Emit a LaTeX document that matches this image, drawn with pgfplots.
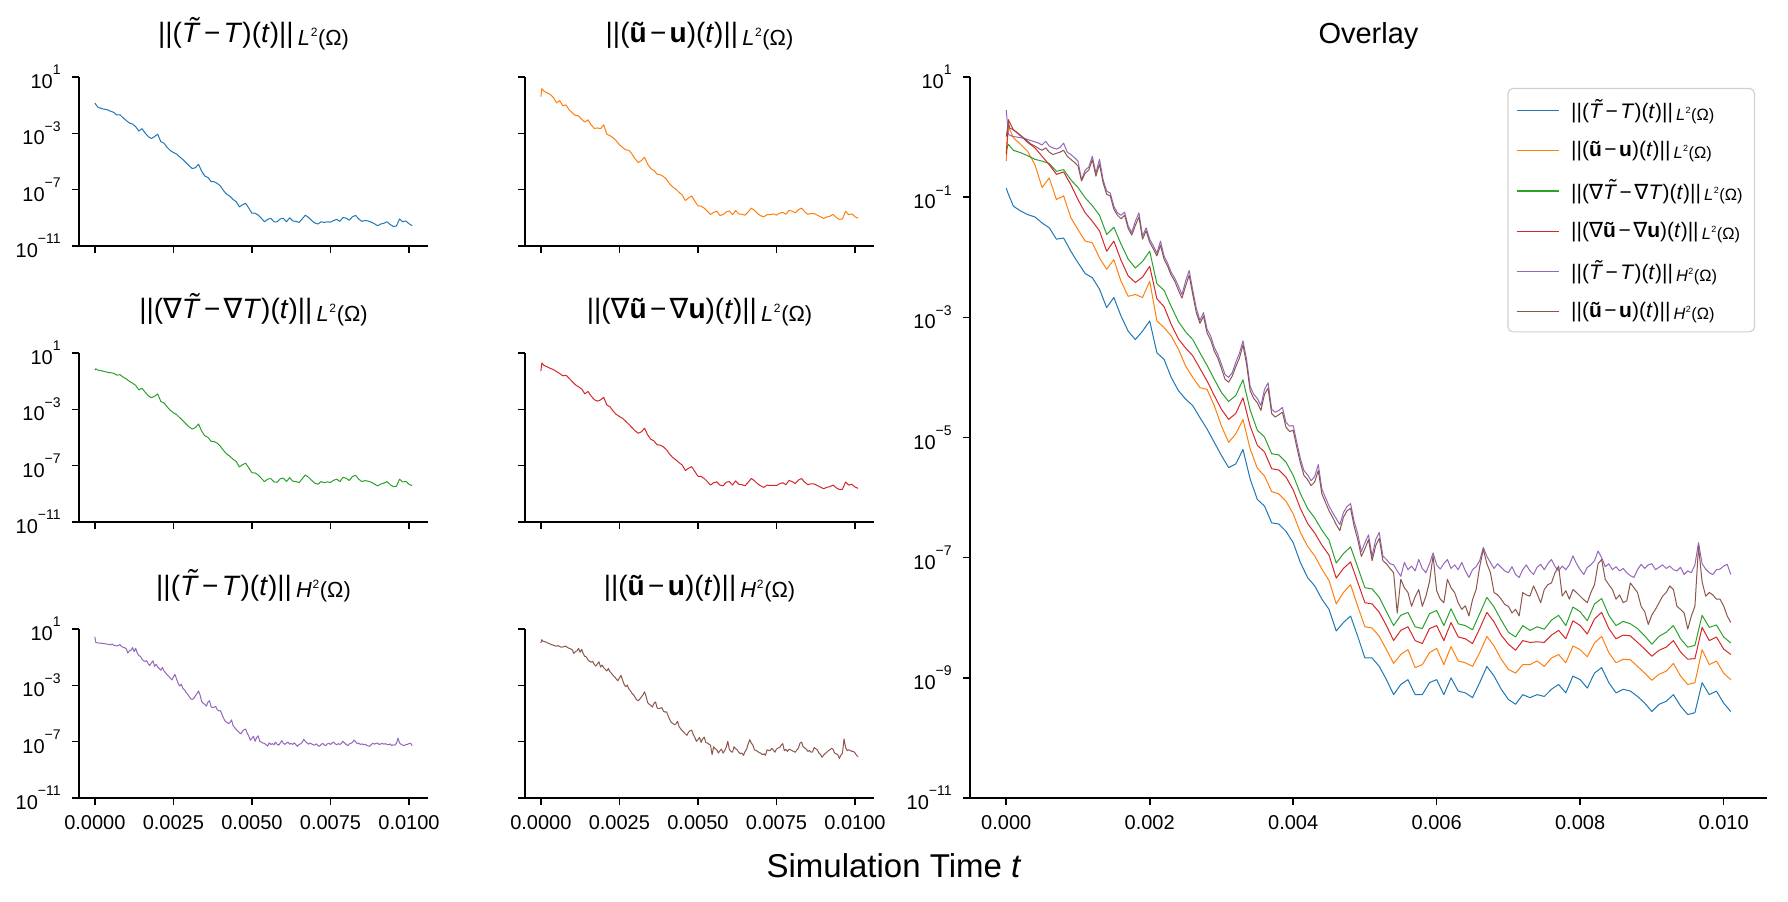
\documentclass[border=0pt]{standalone}
\usepackage{fontspec}
\setmainfont{Liberation Sans}
\newfontfamily\djv{DejaVu Sans}
\usepackage{graphicx}
\usepackage{pgfplots}
\usepackage{pgfplotstable}
\pgfplotsset{compat=1.18}

\definecolor{cB}{HTML}{1F77B4}
\definecolor{cO}{HTML}{FF7F0E}
\definecolor{cG}{HTML}{2CA02C}
\definecolor{cR}{HTML}{D62728}
\definecolor{cP}{HTML}{9467BD}
\definecolor{cN}{HTML}{8C564B}

% notation for the error norms
\newcommand{\tT}{\textit{T}\llap{\raisebox{0.2em}{\textit{\char"02DC}}\kern0.02em}}
\newcommand{\bu}{\textbf{u}}
\newcommand{\tu}{\textbf{ũ}}
\newcommand{\nab}{{\djv\char"2207}}
\newcommand{\mi}{\kern0.12em−\kern0.12em}
\newcommand{\sbs}[1]{\kern0.15em\raisebox{-0.08em}{\scalebox{0.78}{\textit{#1}\kern0.03em\raisebox{0.42em}{\scalebox{0.55}{2}}\kern0.03em(Ω)}}}
\newcommand{\nrm}[2]{||#1||\sbs{#2}}
\newcommand{\ex}[1]{10\raisebox{0.68em}{\fontsize{7}{7}\selectfont #1}}

% time, T error, u error, grad T error, grad u error
\pgfplotstableread{
t b o g r
0 1.41e-1 3.98e-1 6.03e-1 5.13e-1
0.00003 1.12e-1 1.51e0 7.59e-1 1.95e0
0.0001 7.08e-2 9.77e-1 6.03e-1 1.32e0
0.0002 5.89e-2 7.59e-1 5.50e-1 1.05e0
0.0003 5.13e-2 5.75e-1 4.90e-1 8.13e-1
0.0004 4.68e-2 3.47e-1 4.27e-1 6.61e-1
0.0005 3.72e-2 1.45e-1 3.98e-1 4.79e-1
0.0006 3.09e-2 2.09e-1 3.63e-1 3.47e-1
0.0007 2.00e-2 9.12e-2 2.69e-1 2.40e-1
0.0008 2.09e-2 1.05e-1 2.88e-1 2.63e-1
0.0009 1.26e-2 4.57e-2 1.95e-1 1.62e-1
0.0010 8.13e-3 2.88e-2 1.45e-1 9.12e-2
0.0011 5.37e-3 1.86e-2 9.77e-2 5.50e-2
0.0012 4.57e-3 1.74e-2 7.24e-2 3.98e-2
0.0013 2.95e-3 9.77e-3 5.01e-2 2.75e-2
0.0014 1.45e-3 6.31e-3 2.40e-2 1.26e-2
0.0015 2.14e-3 9.12e-3 3.16e-2 1.86e-2
0.0016 1.05e-3 3.98e-3 1.66e-2 8.91e-3
0.0017 5.89e-4 2.24e-3 9.33e-3 4.90e-3
0.0018 4.27e-4 2.40e-3 6.61e-3 3.80e-3
0.0019 5.89e-4 2.14e-3 8.51e-3 4.68e-3
0.0020 8.71e-4 3.98e-3 1.26e-2 7.08e-3
0.0021 2.57e-4 8.71e-4 3.63e-3 2.04e-3
0.0022 2.00e-4 6.76e-4 2.82e-3 1.51e-3
0.0023 1.00e-4 4.90e-4 1.51e-3 7.59e-4
0.0024 6.03e-5 2.95e-4 8.51e-4 4.37e-4
0.0025 4.37e-5 1.55e-4 5.75e-4 3.09e-4
0.0026 3.39e-5 1.00e-4 4.27e-4 2.29e-4
0.0027 2.14e-5 6.76e-5 2.57e-4 1.41e-4
0.0028 1.38e-5 6.31e-5 1.58e-4 8.71e-5
0.0029 8.32e-6 3.39e-5 9.33e-5 5.01e-5
0.0030 5.01e-6 1.55e-5 5.62e-5 2.95e-5
0.0031 3.16e-6 8.32e-6 3.98e-5 2.00e-5
0.0032 3.63e-6 1.15e-5 5.01e-5 2.51e-5
0.0033 6.31e-6 2.00e-5 9.12e-5 4.57e-5
0.0034 2.04e-6 6.46e-6 2.88e-5 1.55e-5
0.0035 9.33e-7 3.09e-6 1.32e-5 7.41e-6
0.0036 7.24e-7 2.29e-6 1.02e-5 5.75e-6
0.0037 3.80e-7 1.26e-6 5.37e-6 3.02e-6
0.0038 3.63e-7 1.15e-6 5.13e-6 2.88e-6
0.0039 2.75e-7 8.71e-7 3.89e-6 2.19e-6
0.0040 1.78e-7 5.37e-7 2.34e-6 1.35e-6
0.0041 8.32e-8 2.63e-7 1.17e-6 6.61e-7
0.0042 4.68e-8 1.55e-7 6.61e-7 3.72e-7
0.0043 3.39e-8 1.07e-7 4.57e-7 2.57e-7
0.0044 2.04e-8 6.46e-8 2.88e-7 1.62e-7
0.0045 1.38e-8 4.17e-8 1.95e-7 1.10e-7
0.0046 6.03e-9 1.70e-8 8.13e-8 4.57e-8
0.0047 8.32e-9 2.63e-8 1.17e-7 6.61e-8
0.0048 1.07e-8 3.55e-8 1.51e-7 8.51e-8
0.0049 4.90e-9 1.55e-8 6.92e-8 3.89e-8
0.0050 2.14e-9 7.08e-9 3.16e-8 1.78e-8
0.0051 2.14e-9 6.76e-9 3.02e-8 1.70e-8
0.0052 1.55e-9 4.90e-9 2.19e-8 1.23e-8
0.0053 9.33e-10 2.95e-9 1.26e-8 7.41e-9
0.0054 5.25e-10 1.74e-9 7.41e-9 4.17e-9
0.0055 7.76e-10 2.45e-9 1.10e-8 6.17e-9
0.0056 9.33e-10 2.95e-9 1.23e-8 7.08e-9
0.0057 5.25e-10 1.48e-9 7.08e-9 4.17e-9
0.0058 5.25e-10 1.66e-9 6.61e-9 3.72e-9
0.0059 8.32e-10 2.63e-9 1.17e-8 6.61e-9
0.0060 9.33e-10 3.09e-9 1.32e-8 7.41e-9
0.0061 5.25e-10 1.66e-9 7.41e-9 4.17e-9
0.0062 1.00e-9 3.31e-9 1.41e-8 8.32e-9
0.0063 6.03e-10 1.91e-9 7.94e-9 4.79e-9
0.0064 5.62e-10 1.78e-9 7.41e-9 4.47e-9
0.0065 4.68e-10 1.55e-9 6.31e-9 3.72e-9
0.0066 8.32e-10 2.63e-9 1.17e-8 6.61e-9
0.0067 1.55e-9 4.90e-9 2.19e-8 1.23e-8
0.0068 1.07e-9 3.39e-9 1.51e-8 8.51e-9
0.0069 6.46e-10 2.04e-9 9.12e-9 5.13e-9
0.0070 4.37e-10 1.38e-9 5.75e-9 3.63e-9
0.0071 3.63e-10 1.20e-9 4.79e-9 2.88e-9
0.0072 5.25e-10 1.66e-9 7.41e-9 4.17e-9
0.0073 4.68e-10 1.66e-9 6.17e-9 3.89e-9
0.0074 5.25e-10 1.91e-9 7.08e-9 3.98e-9
0.0075 4.90e-10 1.55e-9 6.46e-9 3.89e-9
0.0076 6.46e-10 2.14e-9 9.12e-9 5.13e-9
0.0077 7.76e-10 2.45e-9 1.10e-8 6.17e-9
0.0078 5.62e-10 1.78e-9 7.41e-9 4.47e-9
0.0079 1.07e-9 3.39e-9 1.51e-8 8.91e-9
0.0080 9.33e-10 2.95e-9 1.26e-8 7.41e-9
0.0081 6.76e-10 2.24e-9 8.91e-9 5.37e-9
0.0082 1.20e-9 3.80e-9 1.70e-8 9.55e-9
0.0083 1.48e-9 4.90e-9 2.09e-8 1.23e-8
0.0084 8.32e-10 2.63e-9 1.10e-8 6.61e-9
0.0085 5.62e-10 1.78e-9 7.41e-9 4.47e-9
0.0086 6.46e-10 2.04e-9 8.71e-9 5.13e-9
0.0087 6.03e-10 2.00e-9 7.94e-9 5.01e-9
0.0088 4.90e-10 1.55e-9 6.61e-9 3.89e-9
0.0089 3.80e-10 1.20e-9 5.01e-9 3.02e-9
0.0090 2.75e-10 9.12e-10 3.63e-9 2.29e-9
0.0091 3.63e-10 1.15e-9 4.90e-9 2.88e-9
0.0092 4.07e-10 1.29e-9 5.75e-9 3.24e-9
0.0093 5.25e-10 1.74e-9 7.41e-9 4.17e-9
0.0094 3.39e-10 1.07e-9 4.47e-9 2.69e-9
0.0095 2.45e-10 7.76e-10 3.24e-9 2.04e-9
0.0096 2.63e-10 8.32e-10 3.47e-9 2.09e-9
0.0097 8.32e-10 2.95e-9 1.10e-8 6.92e-9
0.0098 5.25e-10 1.66e-9 6.92e-9 4.17e-9
0.0099 6.03e-10 1.91e-9 7.59e-9 4.79e-9
0.0100 3.80e-10 1.20e-9 4.79e-9 3.02e-9
0.0101 2.75e-10 9.33e-10 3.80e-9 2.45e-9
}\tabA

% time, T error in H2, u error in H2
\pgfplotstableread{
t p n
0 2.82e0 1.02e0
0.00003 1.12e0 1.74e0
0.00005 1.07e0 1.41e0
0.0001 1.02e0 1.32e0
0.00015 1.00e0 1.20e0
0.0002 9.77e-1 1.07e0
0.00025 9.55e-1 9.55e-1
0.0003 9.12e-1 8.51e-1
0.00035 8.71e-1 7.59e-1
0.0004 8.32e-1 7.08e-1
0.00045 7.94e-1 6.46e-1
0.0005 7.41e-1 6.03e-1
0.00055 8.51e-1 6.61e-1
0.0006 7.08e-1 5.62e-1
0.00065 6.61e-1 5.13e-1
0.0007 6.31e-1 5.37e-1
0.00075 6.76e-1 5.62e-1
0.0008 7.94e-1 6.03e-1
0.00085 5.62e-1 4.79e-1
0.0009 5.13e-1 4.27e-1
0.00095 4.57e-1 3.80e-1
0.0010 3.98e-1 3.31e-1
0.00105 1.95e-1 1.86e-1
0.0011 2.82e-1 2.51e-1
0.00115 3.16e-1 2.82e-1
0.0012 4.79e-1 4.17e-1
0.00125 2.51e-1 2.24e-1
0.0013 4.27e-1 3.55e-1
0.00135 1.95e-1 1.74e-1
0.0014 1.26e-1 1.12e-1
0.00145 1.17e-1 1.05e-1
0.0015 7.08e-2 6.31e-2
0.00155 5.50e-2 5.01e-2
0.0016 5.01e-2 4.37e-2
0.00165 5.62e-2 5.01e-2
0.0017 3.31e-2 3.02e-2
0.00175 2.57e-2 2.34e-2
0.0018 3.98e-2 3.39e-2
0.00185 5.50e-2 4.68e-2
0.0019 2.24e-2 2.00e-2
0.00195 3.09e-2 2.75e-2
0.0020 2.00e-2 1.78e-2
0.00205 1.55e-2 1.38e-2
0.0021 1.17e-2 1.05e-2
0.00215 1.86e-2 1.58e-2
0.0022 1.05e-2 9.33e-3
0.00225 7.94e-3 7.08e-3
0.0023 5.62e-3 5.01e-3
0.00235 4.47e-3 3.98e-3
0.0024 3.31e-3 2.82e-3
0.00245 2.40e-3 2.09e-3
0.0025 3.98e-3 3.31e-3
0.00255 6.03e-3 5.01e-3
0.0026 2.82e-3 2.40e-3
0.00265 1.41e-3 1.20e-3
0.0027 8.91e-4 7.94e-4
0.00275 1.20e-3 1.05e-3
0.0028 6.31e-4 5.50e-4
0.00285 4.90e-4 4.17e-4
0.0029 3.16e-4 2.75e-4
0.00295 2.40e-4 2.09e-4
0.0030 1.66e-4 1.41e-4
0.00305 1.12e-4 9.33e-5
0.0031 1.00e-4 8.32e-5
0.00315 1.20e-4 1.05e-4
0.0032 1.78e-4 1.51e-4
0.00325 2.51e-4 2.09e-4
0.0033 4.07e-4 3.47e-4
0.00335 2.00e-4 1.66e-4
0.0034 7.08e-5 6.03e-5
0.00345 5.25e-5 4.47e-5
0.0035 4.47e-5 3.80e-5
0.00355 3.39e-5 2.82e-5
0.0036 6.31e-5 5.25e-5
0.00365 8.13e-5 6.61e-5
0.0037 2.95e-5 2.51e-5
0.00375 2.63e-5 2.19e-5
0.0038 2.82e-5 2.40e-5
0.00385 3.16e-5 2.63e-5
0.0039 1.78e-5 1.48e-5
0.00395 1.55e-5 1.26e-5
0.0040 1.58e-5 1.32e-5
0.00405 8.32e-6 6.92e-6
0.0041 4.47e-6 3.80e-6
0.00415 2.82e-6 2.34e-6
0.0042 2.40e-6 2.00e-6
0.00425 1.91e-6 1.58e-6
0.0043 2.24e-6 1.82e-6
0.00435 3.55e-6 2.82e-6
0.0044 1.38e-6 1.15e-6
0.00445 1.00e-6 8.32e-7
0.0045 7.24e-7 6.03e-7
0.00455 5.62e-7 4.68e-7
0.0046 4.47e-7 3.55e-7
0.00465 3.55e-7 2.82e-7
0.0047 5.62e-7 4.68e-7
0.00475 7.08e-7 6.03e-7
0.0048 7.94e-7 6.61e-7
0.00485 3.98e-7 3.31e-7
0.0049 2.51e-7 2.00e-7
0.00495 1.26e-7 1.05e-7
0.0050 1.78e-7 1.41e-7
0.00505 2.40e-7 2.00e-7
0.0051 1.05e-7 8.91e-8
0.00515 2.00e-7 1.58e-7
0.0052 2.63e-7 2.09e-7
0.00525 1.07e-7 8.91e-8
0.0053 9.33e-8 7.94e-8
0.00535 7.94e-8 6.61e-8
0.0054 7.59e-8 5.62e-8
0.00545 6.03e-8 1.20e-8
0.0055 4.90e-8 4.37e-8
0.00555 8.32e-8 3.16e-8
0.0056 6.31e-8 2.63e-8
0.00565 7.24e-8 1.55e-8
0.0057 6.03e-8 2.24e-8
0.00575 9.33e-8 2.95e-8
0.0058 6.61e-8 1.55e-8
0.00585 5.62e-8 2.29e-8
0.0059 7.94e-8 3.98e-8
0.00595 1.20e-7 1.07e-7
0.0060 7.59e-8 2.82e-8
0.00605 6.46e-8 2.04e-8
0.0061 7.94e-8 1.78e-8
0.00615 9.33e-8 4.37e-8
0.0062 6.61e-8 3.16e-8
0.00625 7.59e-8 2.63e-8
0.0063 6.31e-8 1.78e-8
0.00635 8.32e-8 1.38e-8
0.0064 6.03e-8 1.58e-8
0.00645 4.68e-8 1.07e-8
0.0065 6.31e-8 2.00e-8
0.00655 7.08e-8 2.95e-8
0.0066 8.91e-8 7.08e-8
0.00665 1.48e-7 1.38e-7
0.0067 1.05e-7 7.94e-8
0.00675 8.32e-8 5.62e-8
0.0068 6.61e-8 2.63e-8
0.00685 7.94e-8 2.40e-8
0.0069 6.92e-8 2.04e-8
0.00695 6.03e-8 1.66e-8
0.0070 5.62e-8 1.55e-8
0.00705 7.08e-8 1.20e-8
0.0071 5.25e-8 1.38e-8
0.00715 4.68e-8 1.07e-8
0.0072 6.31e-8 2.63e-8
0.00725 7.59e-8 2.40e-8
0.0073 6.03e-8 2.29e-8
0.00735 5.25e-8 3.39e-8
0.0074 6.92e-8 2.51e-8
0.00745 7.76e-8 1.78e-8
0.0075 6.31e-8 2.95e-8
0.00755 7.94e-8 3.55e-8
0.0076 9.33e-8 3.80e-8
0.00765 7.08e-8 5.62e-8
0.0077 6.03e-8 7.24e-8
0.00775 7.24e-8 2.29e-8
0.0078 6.31e-8 2.82e-8
0.00785 7.59e-8 2.04e-8
0.0079 1.07e-7 2.95e-8
0.00795 7.94e-8 2.63e-8
0.0080 6.31e-8 2.29e-8
0.00805 5.25e-8 2.00e-8
0.0081 6.92e-8 1.78e-8
0.00815 7.59e-8 2.63e-8
0.0082 8.91e-8 3.55e-8
0.00825 1.29e-7 7.94e-8
0.0083 1.00e-7 9.33e-8
0.00835 7.08e-8 4.37e-8
0.0084 7.94e-8 3.55e-8
0.00845 6.31e-8 2.95e-8
0.0085 7.08e-8 2.04e-8
0.00855 6.03e-8 2.40e-8
0.0086 6.61e-8 1.78e-8
0.00865 5.62e-8 1.91e-8
0.0087 5.01e-8 3.80e-8
0.00875 4.68e-8 3.16e-8
0.0088 6.31e-8 2.63e-8
0.00885 7.76e-8 1.55e-8
0.0089 6.61e-8 1.26e-8
0.00895 7.59e-8 7.76e-9
0.0090 7.94e-8 1.12e-8
0.00905 6.31e-8 1.38e-8
0.0091 6.92e-8 1.78e-8
0.00915 7.59e-8 2.29e-8
0.0092 6.61e-8 2.63e-8
0.00925 7.24e-8 3.39e-8
0.0093 6.31e-8 2.95e-8
0.00935 6.03e-8 1.55e-8
0.0094 6.92e-8 1.38e-8
0.00945 5.25e-8 1.20e-8
0.0095 6.03e-8 6.46e-9
0.00955 5.62e-8 1.07e-8
0.0096 7.59e-8 1.55e-8
0.00965 1.78e-7 1.55e-7
0.0097 7.94e-8 3.98e-8
0.00975 6.46e-8 2.29e-8
0.0098 5.62e-8 2.63e-8
0.00985 5.25e-8 2.40e-8
0.0099 6.31e-8 2.04e-8
0.00995 6.46e-8 2.04e-8
0.0100 7.24e-8 1.58e-8
0.01005 7.76e-8 1.07e-8
0.0101 5.25e-8 8.32e-9
}\tabB

\pgfplotsset{every axis/.append style={
  scale only axis,
  xmin=-0.000505, xmax=0.010605, ymin=1e-11, ymax=10,
  axis x line*=bottom, axis y line*=left,
  axis line style={-, line width=0.8pt, black},
  tick style={black, line width=0.8pt},
  tick align=outside, major tick length=3.5pt,
  yminorticks=false, xminorticks=false,
  tick label style={font=\fontsize{10}{12}\selectfont},
  xticklabel style={inner sep=0pt, anchor=north, yshift=-5pt},
  yticklabel style={inner sep=0pt, anchor=east, xshift=-5.5pt},
  scaled x ticks=false,
}}
\pgfplotsset{every axis plot/.append style={line width=0.5pt, line join=round}}

\begin{document}
\begin{tikzpicture}
\path[use as bounding box] (0,0) rectangle (894pt,450.5pt);

% first row
\begin{semilogyaxis}[width=174.5pt, height=84.5pt,
  at={(39.5pt,327.5pt)}, anchor=south west,
  xtick={0,0.0025,0.005,0.0075,0.01}, xticklabels={},
  ytick={1e-11,1e-7,1e-3,10}, yticklabels={\ex{−11},\ex{−7},\ex{−3},\ex{1}},
  title style={at={(0.5,1)}, anchor=base, inner sep=0pt, yshift=11pt, font=\fontsize{14}{16}\selectfont},
  title={\nrm{(\tT\mi\textit{T})(\textit{t})}{L}}]
\addplot[cB] table[x=t,y=b] {\tabA};
\end{semilogyaxis}
\begin{semilogyaxis}[width=174.5pt, height=84.5pt,
  at={(262.5pt,327.5pt)}, anchor=south west,
  xtick={0,0.0025,0.005,0.0075,0.01}, xticklabels={},
  ytick={1e-11,1e-7,1e-3,10}, yticklabels={},
  title style={at={(0.5,1)}, anchor=base, inner sep=0pt, yshift=11pt, font=\fontsize{14}{16}\selectfont},
  title={\nrm{(\tu\mi\bu)(\textit{t})}{L}}]
\addplot[cO] table[x=t,y=o] {\tabA};
\end{semilogyaxis}

% second row
\begin{semilogyaxis}[width=174.5pt, height=84.5pt,
  at={(39.5pt,189.5pt)}, anchor=south west,
  xtick={0,0.0025,0.005,0.0075,0.01}, xticklabels={},
  ytick={1e-11,1e-7,1e-3,10}, yticklabels={\ex{−11},\ex{−7},\ex{−3},\ex{1}},
  title style={at={(0.5,1)}, anchor=base, inner sep=0pt, yshift=11pt, font=\fontsize{14}{16}\selectfont},
  title={\nrm{(\nab\tT\mi\nab\textit{T})(\textit{t})}{L}}]
\addplot[cG] table[x=t,y=g] {\tabA};
\end{semilogyaxis}
\begin{semilogyaxis}[width=174.5pt, height=84.5pt,
  at={(262.5pt,189.5pt)}, anchor=south west,
  xtick={0,0.0025,0.005,0.0075,0.01}, xticklabels={},
  ytick={1e-11,1e-7,1e-3,10}, yticklabels={},
  title style={at={(0.5,1)}, anchor=base, inner sep=0pt, yshift=11pt, font=\fontsize{14}{16}\selectfont},
  title={\nrm{(\nab\tu\mi\nab\bu)(\textit{t})}{L}}]
\addplot[cR] table[x=t,y=r] {\tabA};
\end{semilogyaxis}

% third row
\begin{semilogyaxis}[width=174.5pt, height=84.5pt,
  at={(39.5pt,51.5pt)}, anchor=south west,
  xtick={0,0.0025,0.005,0.0075,0.01},
  xticklabels={0.0000,0.0025,0.0050,0.0075,0.0100},
  ytick={1e-11,1e-7,1e-3,10}, yticklabels={\ex{−11},\ex{−7},\ex{−3},\ex{1}},
  title style={at={(0.5,1)}, anchor=base, inner sep=0pt, yshift=11pt, font=\fontsize{14}{16}\selectfont},
  title={\nrm{(\tT\mi\textit{T})(\textit{t})}{H}}]
\addplot[cP] table[x=t,y=p] {\tabB};
\end{semilogyaxis}
\begin{semilogyaxis}[width=174.5pt, height=84.5pt,
  at={(262.5pt,51.5pt)}, anchor=south west,
  xtick={0,0.0025,0.005,0.0075,0.01},
  xticklabels={0.0000,0.0025,0.0050,0.0075,0.0100},
  ytick={1e-11,1e-7,1e-3,10}, yticklabels={},
  title style={at={(0.5,1)}, anchor=base, inner sep=0pt, yshift=11pt, font=\fontsize{14}{16}\selectfont},
  title={\nrm{(\tu\mi\bu)(\textit{t})}{H}}]
\addplot[cN] table[x=t,y=n] {\tabB};
\end{semilogyaxis}

% all six norms together
\begin{semilogyaxis}[width=398.5pt, height=360.5pt,
  at={(485pt,51.5pt)}, anchor=south west,
  ytick={1e-11,1e-9,1e-7,1e-5,1e-3,1e-1,10},
  yticklabels={\ex{−11},\ex{−9},\ex{−7},\ex{−5},\ex{−3},\ex{−1},\ex{1}},
  xtick={0,0.002,0.004,0.006,0.008,0.01},
  xticklabels={0.000,0.002,0.004,0.006,0.008,0.010},
  title style={at={(0.5,1)}, anchor=base, inner sep=0pt, yshift=10.9pt, font=\fontsize{14.5}{17}\selectfont},
  title={Overlay},
  legend style={at={(0.985,0.985)}, anchor=north east, draw=black!18,
    line width=0.6pt, rounded corners=2.5pt, fill=white,
    font=\fontsize{10.5}{12}\selectfont, inner xsep=4pt, inner ysep=3.5pt,
    row sep=6pt, column sep=4pt, cells={anchor=west}},
  legend cell align=left,
  legend image code/.code={\draw[#1, line width=0.6pt] (0pt,0pt) -- (21pt,0pt);},
]
\addplot[cB] table[x=t,y=b] {\tabA};
\addlegendentry{\nrm{(\tT\mi\textit{T})(\textit{t})}{L}}
\addplot[cO] table[x=t,y=o] {\tabA};
\addlegendentry{\nrm{(\tu\mi\bu)(\textit{t})}{L}}
\addplot[cG] table[x=t,y=g] {\tabA};
\addlegendentry{\nrm{(\nab\tT\mi\nab\textit{T})(\textit{t})}{L}}
\addplot[cR] table[x=t,y=r] {\tabA};
\addlegendentry{\nrm{(\nab\tu\mi\nab\bu)(\textit{t})}{L}}
\addplot[cP] table[x=t,y=p] {\tabB};
\addlegendentry{\nrm{(\tT\mi\textit{T})(\textit{t})}{H}}
\addplot[cN] table[x=t,y=n] {\tabB};
\addlegendentry{\nrm{(\tu\mi\bu)(\textit{t})}{H}}
\end{semilogyaxis}

\node[anchor=base, font=\fontsize{16.5}{19}\selectfont] at (447pt,11.85pt) {Simulation Time \textit{t}};
\end{tikzpicture}
\end{document}
